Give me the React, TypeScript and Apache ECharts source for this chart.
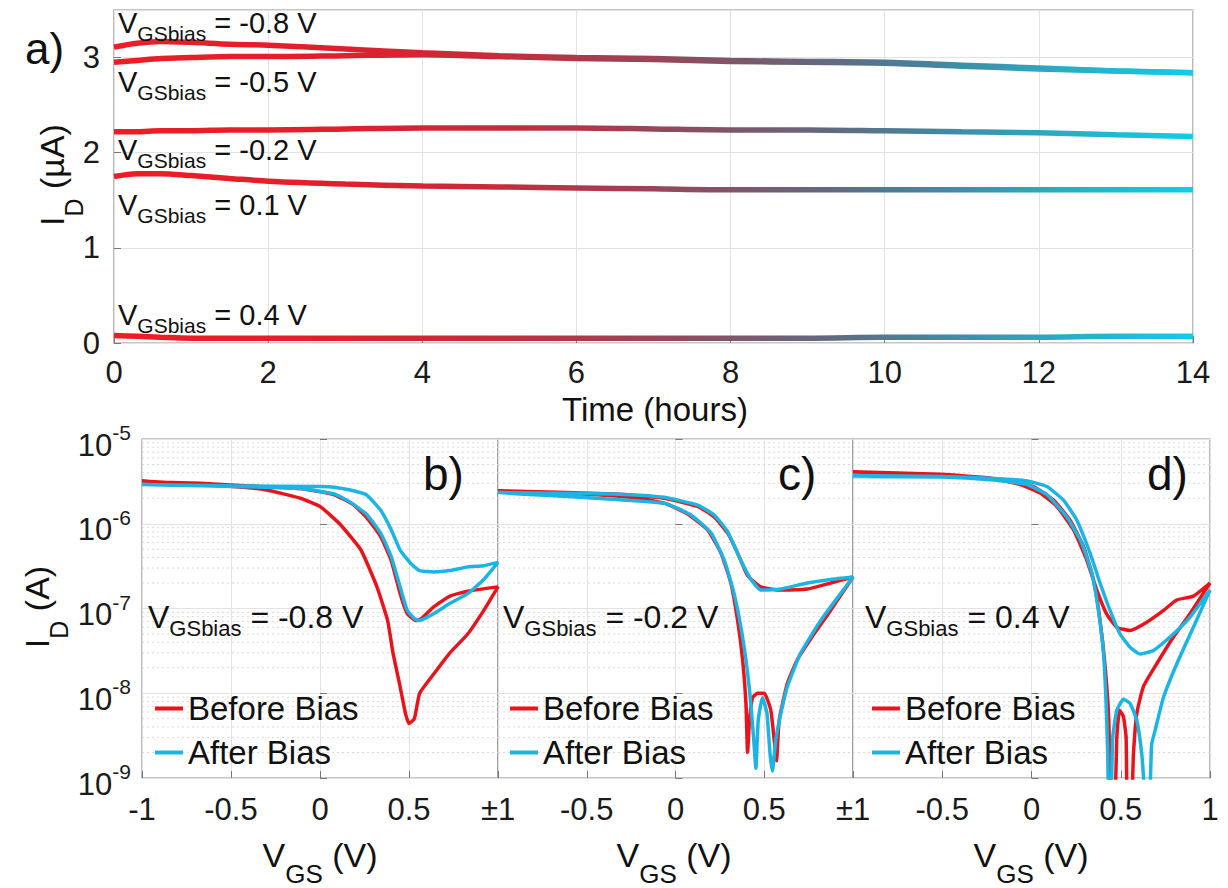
import React, { useEffect, useRef } from "react";
import * as echarts from "echarts";

const FONT = "'Liberation Sans', Arial, Helvetica, sans-serif";

// ---------- panel a): drain current vs time (µA) ----------
const timeHours = [0, 0.3, 0.6, 1, 1.5, 2, 3, 4, 5, 6, 7, 8, 9, 10, 11, 12, 13, 14];
const idBiasM08 = [3.11, 3.15, 3.17, 3.16, 3.14, 3.13, 3.09, 3.05, 3.02, 3.0, 2.99, 2.97, 2.96, 2.95, 2.92, 2.89, 2.86, 2.84];
const idBiasM05 = [2.95, 2.97, 2.99, 3.0, 3.01, 3.01, 3.02, 3.03, 3.01, 2.99, 2.98, 2.96, 2.95, 2.94, 2.91, 2.88, 2.86, 2.84];
const idBiasM02 = [2.22, 2.22, 2.23, 2.23, 2.24, 2.24, 2.25, 2.26, 2.26, 2.26, 2.25, 2.24, 2.24, 2.23, 2.22, 2.21, 2.19, 2.17];
const idBiasP01 = [1.75, 1.78, 1.78, 1.76, 1.73, 1.7, 1.67, 1.65, 1.64, 1.63, 1.62, 1.61, 1.61, 1.61, 1.61, 1.61, 1.61, 1.61];
const idBiasP04 = [0.08, 0.07, 0.06, 0.05, 0.05, 0.05, 0.05, 0.05, 0.05, 0.05, 0.05, 0.05, 0.05, 0.06, 0.06, 0.06, 0.07, 0.07];
const biasLabels = ["-0.8", "-0.5", "-0.2", "0.1", "0.4"];

// ---------- panel b): V_GSbias = -0.8 V ----------
const bBeforeV = [-1, -0.49, -0.3, -0.11, 0, 0.11, 0.23, 0.32, 0.38, 0.41, 0.45, 0.48, 0.5, 0.53, 0.56, 0.64, 0.73, 0.83, 0.92, 1,
  0.83, 0.73, 0.64, 0.57, 0.54, 0.49, 0.45, 0.4, 0.34, 0.26, 0.19, 0.08, -0.11, -0.34, -0.67, -1];
const bBeforeI = [3.2e-6, 2.75e-6, 2.5e-6, 2.0e-6, 1.6e-6, 1.0e-6, 4.9e-7, 1.8e-7, 7.2e-8, 3.0e-8, 1.2e-8, 5.8e-9, 4.4e-9, 5.0e-9, 1.0e-8, 1.7e-8, 3.0e-8, 5.0e-8, 9.5e-8, 1.8e-7,
  1.6e-7, 1.4e-7, 1.05e-7, 7.6e-8, 7.2e-8, 8.7e-8, 1.5e-7, 3.7e-7, 7.1e-7, 1.2e-6, 1.66e-6, 2.2e-6, 2.6e-6, 2.75e-6, 3.0e-6, 3.15e-6];
const bAfterV = [-1, -0.5, 0, 0.08, 0.17, 0.26, 0.34, 0.4, 0.45, 0.51, 0.56, 0.64, 0.73, 0.83, 0.92, 1,
  0.92, 0.83, 0.73, 0.64, 0.56, 0.53, 0.49, 0.45, 0.4, 0.34, 0.26, 0.17, 0.08, -0.11, -0.3, -0.67, -1];
const bAfterI = [2.9e-6, 2.8e-6, 2.75e-6, 2.7e-6, 2.5e-6, 2.2e-6, 1.45e-6, 8.5e-7, 4.9e-7, 3.4e-7, 2.8e-7, 2.7e-7, 2.8e-7, 3.1e-7, 3.2e-7, 3.5e-7,
  2.2e-7, 1.5e-7, 1.15e-7, 8.7e-8, 7.2e-8, 7.6e-8, 9.5e-8, 1.8e-7, 4.1e-7, 7.8e-7, 1.3e-6, 1.8e-6, 2.25e-6, 2.6e-6, 2.7e-6, 2.8e-6, 2.9e-6];

// ---------- panel c): V_GSbias = -0.2 V ----------
const cBeforeV = [-1, -0.53, -0.25, -0.063, 0.068, 0.18, 0.256, 0.312, 0.35, 0.378, 0.397, 0.406, 0.417, 0.434, 0.462, 0.5, 0.537, 0.556, 0.569, 0.584, 0.63, 0.687, 0.78, 0.874, 1,
  0.874, 0.743, 0.593, 0.48, 0.406, 0.35, 0.293, 0.218, 0.125, -0.063, -0.344, -1];
const cBeforeI = [2.45e-6, 2.25e-6, 2.05e-6, 1.75e-6, 1.3e-6, 8.5e-7, 4.5e-7, 2.0e-7, 7.2e-8, 2.5e-8, 7.6e-9, 2.0e-9, 4.8e-9, 8.9e-9, 1.0e-8, 1.0e-8, 6.3e-9, 2.8e-9, 1.6e-9, 4.8e-9, 1.3e-8, 2.5e-8, 5.0e-8, 9.5e-8, 2.35e-7,
  2.0e-7, 1.7e-7, 1.65e-7, 1.8e-7, 2.45e-7, 4.5e-7, 7.8e-7, 1.2e-6, 1.6e-6, 2.0e-6, 2.25e-6, 2.45e-6];
const cAfterV = [-1, -0.063, 0.087, 0.2, 0.275, 0.33, 0.378, 0.415, 0.44, 0.453, 0.466, 0.49, 0.515, 0.533, 0.546, 0.565, 0.593, 0.63, 0.706, 0.818, 0.93, 1,
  0.874, 0.743, 0.593, 0.48, 0.425, 0.368, 0.293, 0.218, 0.125, -0.063, -0.344, -1];
const cAfterI = [2.33e-6, 1.75e-6, 1.27e-6, 7.8e-7, 3.7e-7, 1.5e-7, 4.6e-8, 1.2e-8, 3.0e-9, 1.3e-9, 4.8e-9, 8.9e-9, 5.8e-9, 1.9e-9, 1.2e-9, 2.8e-9, 5.7e-9, 1.2e-8, 3.0e-8, 7.2e-8, 1.5e-7, 2.35e-7,
  2.2e-7, 2.0e-7, 1.7e-7, 1.65e-7, 2.2e-7, 3.7e-7, 8.1e-7, 1.27e-6, 1.66e-6, 2.05e-6, 2.25e-6, 2.33e-6];

// ---------- panel d): V_GSbias = 0.4 V ----------
const dBeforeV = [-1, -0.51, -0.23, -0.063, 0.049, 0.142, 0.235, 0.31, 0.366, 0.42, 0.478, 0.552, 0.646, 0.74, 0.813, 0.907, 1,
  0.888, 0.795, 0.7, 0.627, 0.59, 0.571, 0.56, 0.537, 0.53, 0.515, 0.493, 0.478, 0.466, 0.444, 0.433, 0.414, 0.384, 0.347, 0.291, 0.216, 0.123, 0.011, -0.138, -0.51, -1];
const dBeforeI = [4.1e-6, 3.85e-6, 3.45e-6, 2.9e-6, 2.3e-6, 1.6e-6, 8.5e-7, 3.7e-7, 1.65e-7, 8.7e-8, 6.0e-8, 5.5e-8, 6.9e-8, 9.5e-8, 1.26e-7, 1.4e-7, 2.0e-7,
  8.7e-8, 4.6e-8, 2.2e-8, 1.2e-8, 5.8e-9, 1.9e-9, 5e-10, 5e-10, 3.0e-9, 5.3e-9, 6.3e-9, 3.0e-9, 5e-10, 5e-10, 4.8e-9, 1.9e-8, 7.2e-8, 2.2e-7, 5.4e-7, 1.1e-6, 1.9e-6, 2.75e-6, 3.3e-6, 3.7e-6, 3.9e-6];
const dAfterV = [-1, -0.51, -0.23, -0.026, 0.086, 0.179, 0.254, 0.328, 0.384, 0.44, 0.496, 0.552, 0.608, 0.683, 0.795, 0.888, 1,
  0.907, 0.813, 0.739, 0.692, 0.673, 0.66, 0.642, 0.618, 0.59, 0.552, 0.515, 0.478, 0.455, 0.444, 0.433, 0.427, 0.418, 0.403, 0.375, 0.338, 0.282, 0.198, 0.086, -0.026, -0.23, -0.51, -1];
const dAfterI = [3.7e-6, 3.6e-6, 3.45e-6, 3.2e-6, 2.75e-6, 1.9e-6, 1.1e-6, 4.5e-7, 2.0e-7, 9.5e-8, 5.0e-8, 3.5e-8, 2.9e-8, 3.2e-8, 5.0e-8, 7.9e-8, 1.65e-7,
  6.0e-8, 2.2e-8, 8.9e-9, 3.6e-9, 2.5e-9, 5e-10, 5e-10, 1.9e-9, 4.8e-9, 7.6e-9, 8.5e-9, 6.3e-9, 3.0e-9, 5e-10, 5e-10, 1.9e-9, 7.6e-9, 3.0e-8, 9.5e-8, 2.6e-7, 5.9e-7, 1.2e-6, 2.2e-6, 2.9e-6, 3.3e-6, 3.55e-6, 3.6e-6];

const panelBias = ["-0.8", "-0.2", "0.4"];
const minorLogValues = [-9, -8, -7, -6].flatMap((e) => [2, 3, 4, 5, 6, 7, 8, 9].map((m) => m * Math.pow(10, e)));

const RED = "#e8141c";
const CYAN = "#1cb4e2";

function pairs(xs: number[], ys: number[]) {
  return xs.map((x, i) => [x, ys[i]]);
}

export default function App() {
  const ref = useRef<HTMLDivElement>(null);

  useEffect(() => {
    if (!ref.current) return;
    const chart = echarts.init(ref.current, undefined, { renderer: "svg" });

    const grad = () =>
      new echarts.graphic.LinearGradient(0, 0, 1, 0, [
        { offset: 0, color: "#ee1c25" },
        { offset: 0.22, color: "#df202d" },
        { offset: 0.36, color: "#c62c3c" },
        { offset: 0.46, color: "#a53d50" },
        { offset: 0.56, color: "#845266" },
        { offset: 0.66, color: "#62697f" },
        { offset: 0.76, color: "#44869f" },
        { offset: 0.88, color: "#2aacc6" },
        { offset: 1, color: "#12cce6" },
      ]);

    const tickLabel = { fontSize: 31, fontFamily: FONT, color: "#1a1a1a" };
    const splitLine = { show: true, lineStyle: { color: "#e2e2e2", width: 1 } };
    const axisTick = { show: true, inside: true, length: 7, lineStyle: { color: "#777" } };

    const topSeries = [idBiasM08, idBiasM05, idBiasM02, idBiasP01, idBiasP04].map((vals, i) => ({
      type: "line",
      name: "bias" + i,
      xAxisIndex: 0,
      yAxisIndex: 0,
      data: pairs(timeHours, vals),
      showSymbol: false,
      symbol: "none",
      smooth: 0.3,
      lineStyle: { width: 5.5, color: grad() },
      itemStyle: { color: RED },
      z: 3,
    }));

    const panels = [
      [bBeforeV, bBeforeI, bAfterV, bAfterI],
      [cBeforeV, cBeforeI, cAfterV, cAfterI],
      [dBeforeV, dBeforeI, dAfterV, dAfterI],
    ];

    // minor log grid: horizontal segments separated by gaps
    const minorGridData: any[] = [];
    minorLogValues.forEach((v) => {
      minorGridData.push([-1, v], [1, v], [1, "-"]);
    });

    const bottomSeries: any[] = [];
    panels.forEach((p, k) => {
      bottomSeries.push({
        type: "line",
        name: "minorGrid" + k,
        xAxisIndex: k + 1,
        yAxisIndex: k + 1,
        data: minorGridData,
        showSymbol: false,
        symbol: "none",
        silent: true,
        connectNulls: false,
        lineStyle: { width: 1, type: [2, 3], color: "#dadada" },
        itemStyle: { color: "#dadada" },
        z: 1,
      });
      bottomSeries.push({
        type: "line",
        name: "Before Bias",
        xAxisIndex: k + 1,
        yAxisIndex: k + 1,
        data: pairs(p[0], p[1]),
        showSymbol: false,
        symbol: "none",
        smooth: 0.15,
        clip: true,
        lineStyle: { width: 3.5, color: RED },
        itemStyle: { color: RED },
        z: 3,
      });
      bottomSeries.push({
        type: "line",
        name: "After Bias",
        xAxisIndex: k + 1,
        yAxisIndex: k + 1,
        data: pairs(p[2], p[3]),
        showSymbol: false,
        symbol: "none",
        smooth: 0.15,
        clip: true,
        lineStyle: { width: 3.5, color: CYAN },
        itemStyle: { color: CYAN },
        z: 4,
      });
    });

    const gridBorder = { show: true, borderColor: "#8e8e8e", borderWidth: 1.2, backgroundColor: "transparent" };
    const bottomLefts = [142, 498, 853];
    const bottomWidths = [356, 355, 357];

    const xFormatters = [
      (v: number) => (v === 1 ? "±1" : String(v)),
      (v: number) => (v === -1 ? "" : v === 1 ? "±1" : String(v)),
      (v: number) => (v === -1 ? "" : String(v)),
    ];

    const subRich = (main: number, sub: number, lh: number) => ({
      m: { fontSize: main, fontFamily: FONT, fill: "#111", lineHeight: lh },
      s: { fontSize: sub, fontFamily: FONT, fill: "#111", lineHeight: sub, verticalAlign: "bottom" },
    });

    const graphics: any[] = [];
    graphics.push({ type: "text", x: 25, y: 48, z: 100, style: { text: "a)", fontSize: 44, fontFamily: FONT, fill: "#111", verticalAlign: "middle" } });
    const topAnnY = [23, 82, 150, 205, 315];
    biasLabels.forEach((b, i) => {
      graphics.push({
        type: "text", x: 118, y: topAnnY[i], z: 100,
        style: { text: `{m|V}{s|GSbias}{m| = ${b} V}`, rich: subRich(29, 21, 41), verticalAlign: "middle", align: "left" },
      });
    });
    graphics.push({ type: "text", x: 655, y: 409, z: 100, style: { text: "Time (hours)", fontSize: 33, fontFamily: FONT, fill: "#111", align: "center", verticalAlign: "middle" } });
    graphics.push({
      type: "text", x: 52, y: 175, rotation: Math.PI / 2, z: 100,
      style: { text: "{m|I}{s|D}{m| (µA)}", rich: subRich(34, 25, 68), align: "center", verticalAlign: "middle" },
    });
    graphics.push({
      type: "text", x: 37, y: 607, rotation: Math.PI / 2, z: 100,
      style: { text: "{m|I}{s|D}{m| (A)}", rich: subRich(34, 25, 68), align: "center", verticalAlign: "middle" },
    });
    const panelNames = ["b)", "c)", "d)"];
    const panelLabelX = [423, 778, 1147];
    const annX = [148, 503, 865];
    const titleX = [320, 674, 1031];
    for (let k = 0; k < 3; k++) {
      graphics.push({ type: "text", x: panelLabelX[k], y: 474, z: 100, style: { text: panelNames[k], fontSize: 46, fontFamily: FONT, fill: "#111", verticalAlign: "middle" } });
      graphics.push({
        type: "text", x: annX[k], y: 617, z: 100,
        style: { text: `{m|V}{s|GSbias}{m| = ${panelBias[k]} V}`, rich: subRich(32, 22, 44), verticalAlign: "middle", align: "left" },
      });
      graphics.push({
        type: "text", x: titleX[k], y: 855, z: 100,
        style: { text: "{m|V}{s|GS}{m| (V)}", rich: subRich(34, 26, 64), verticalAlign: "middle", align: "center" },
      });
    }

    const option: any = {
      animation: false,
      backgroundColor: "#ffffff",
      grid: [
        { left: 114, top: 10, width: 1079, height: 333, ...gridBorder },
        ...bottomLefts.map((l, k) => ({ left: l, top: 439, width: bottomWidths[k], height: 339, ...gridBorder })),
      ],
      xAxis: [
        {
          gridIndex: 0, type: "value", min: 0, max: 14, interval: 2,
          axisLine: { show: false }, axisTick, splitLine,
          axisLabel: { ...tickLabel, margin: 14 },
        },
        ...[0, 1, 2].map((k) => ({
          gridIndex: k + 1, type: "value", min: -1, max: 1, interval: 0.5,
          axisLine: { show: false }, axisTick, splitLine,
          axisLabel: { ...tickLabel, margin: 16, formatter: xFormatters[k], showMinLabel: true, showMaxLabel: true },
        })),
      ],
      yAxis: [
        {
          gridIndex: 0, type: "value", min: 0, max: 3.5, interval: 1,
          axisLine: { show: false }, axisTick, splitLine,
          axisLabel: { ...tickLabel, margin: 14, showMaxLabel: false },
        },
        ...[0, 1, 2].map((k) => ({
          gridIndex: k + 1, type: "log", logBase: 10, min: 1e-9, max: 1e-5,
          axisLine: { show: false }, axisTick, splitLine,
          axisLabel: {
            show: k === 0,
            margin: 11,
            padding: [12, 0, 0, 0],
            formatter: (v: number) => `{m|10}{s|${Math.round(Math.log10(v))}}`,
            rich: {
              m: { fontSize: 31, fontFamily: FONT, color: "#1a1a1a", lineHeight: 46 },
              s: { fontSize: 21, fontFamily: FONT, color: "#1a1a1a", lineHeight: 21, verticalAlign: "top" },
            },
          },
        })),
      ],
      legend: annX.map((lx) => ({
        data: ["Before Bias", "After Bias"],
        orient: "vertical",
        left: lx + 2,
        top: 686,
        itemWidth: 28,
        itemHeight: 4,
        icon: "rect",
        itemGap: 9,
        selectedMode: false,
        textStyle: { fontSize: 33, fontFamily: FONT, color: "#111", lineHeight: 35 },
      })),
      graphic: graphics,
      series: [...topSeries, ...bottomSeries],
    };

    chart.setOption(option);
    return () => chart.dispose();
  }, []);

  return (
    <div
      ref={ref}
      style={{ position: "fixed", left: 0, top: 0, width: 1228, height: 888, background: "#fff" }}
    />
  );
}
